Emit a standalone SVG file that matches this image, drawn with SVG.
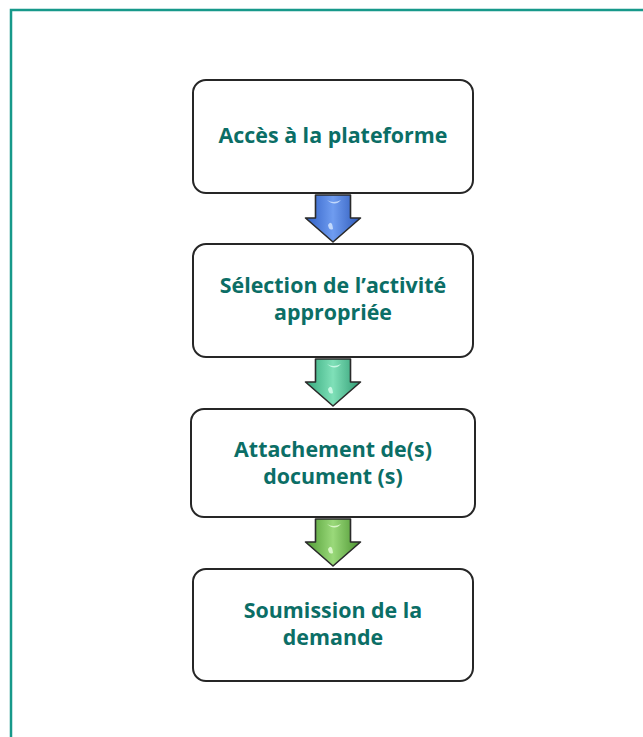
<svg xmlns="http://www.w3.org/2000/svg" width="643" height="737" viewBox="0 0 643 737">
<defs>
<style>
.box{fill:#fff;stroke:#262626;stroke-width:2}
.lbl{font-family:"Open Sans","Noto Sans","Liberation Sans",sans-serif;font-weight:bold;font-size:21.4px;fill:#0b6e66;text-anchor:middle}
.arr{stroke:#2a2a2a;stroke-width:1.6;stroke-linejoin:round}
</style>
<linearGradient id="gBlue" x1="0" y1="0" x2="1" y2="0">
<stop offset="0" stop-color="#2f5fc4"/><stop offset="0.5" stop-color="#6f9cf0"/><stop offset="1" stop-color="#2c58b8"/>
</linearGradient>
<linearGradient id="gTeal" x1="0" y1="0" x2="1" y2="0">
<stop offset="0" stop-color="#35a87c"/><stop offset="0.5" stop-color="#7fe0b8"/><stop offset="1" stop-color="#2f9a72"/>
</linearGradient>
<linearGradient id="gGreen" x1="0" y1="0" x2="1" y2="0">
<stop offset="0" stop-color="#4f9a33"/><stop offset="0.5" stop-color="#9ad97a"/><stop offset="1" stop-color="#4a922f"/>
</linearGradient>
<path id="arrowShape" d="M-17.5,0 H17.5 V23 H27.5 L0,47 L-27.5,23 H-17.5 Z"/>
</defs>
<rect width="643" height="737" fill="#fff"/>
<path d="M11,737 V10 H643" fill="none" stroke="#17998a" stroke-width="2.5"/>
<g id="connectors">
<g transform="translate(333,195)"><use href="#arrowShape" class="arr" fill="url(#gBlue)"/><path d="M-6,5 Q0,9 8,5 Q2,12 -6,5Z M-5,30 Q-1,24 0,34 Q-4,36 -5,30Z" fill="#d8e8ff" opacity="0.8"/></g>
<g transform="translate(333,359)"><use href="#arrowShape" class="arr" fill="url(#gTeal)"/><path d="M-6,5 Q0,9 8,5 Q2,12 -6,5Z M-5,30 Q-1,24 0,34 Q-4,36 -5,30Z" fill="#dcfff0" opacity="0.8"/></g>
<g transform="translate(333,519)"><use href="#arrowShape" class="arr" fill="url(#gGreen)"/><path d="M-6,5 Q0,9 8,5 Q2,12 -6,5Z M-5,30 Q-1,24 0,34 Q-4,36 -5,30Z" fill="#eaffdc" opacity="0.8"/></g>
</g>
<g id="node1">
<rect class="box" x="193" y="80" width="280" height="113" rx="13"/>
<text class="lbl" x="333" y="143">Accès à la plateforme</text>
</g>
<g id="node2">
<rect class="box" x="193" y="244" width="280" height="113" rx="13"/>
<text class="lbl" x="333" y="293">Sélection de l’activité</text>
<text class="lbl" x="333" y="320">appropriée</text>
</g>
<g id="node3">
<rect class="box" x="191" y="409" width="284" height="108" rx="13"/>
<text class="lbl" x="333" y="457">Attachement de(s)</text>
<text class="lbl" x="333" y="484">document (s)</text>
</g>
<g id="node4">
<rect class="box" x="193" y="569" width="280" height="112" rx="13"/>
<text class="lbl" x="333" y="618">Soumission de la</text>
<text class="lbl" x="333" y="645">demande</text>
</g>
</svg>
